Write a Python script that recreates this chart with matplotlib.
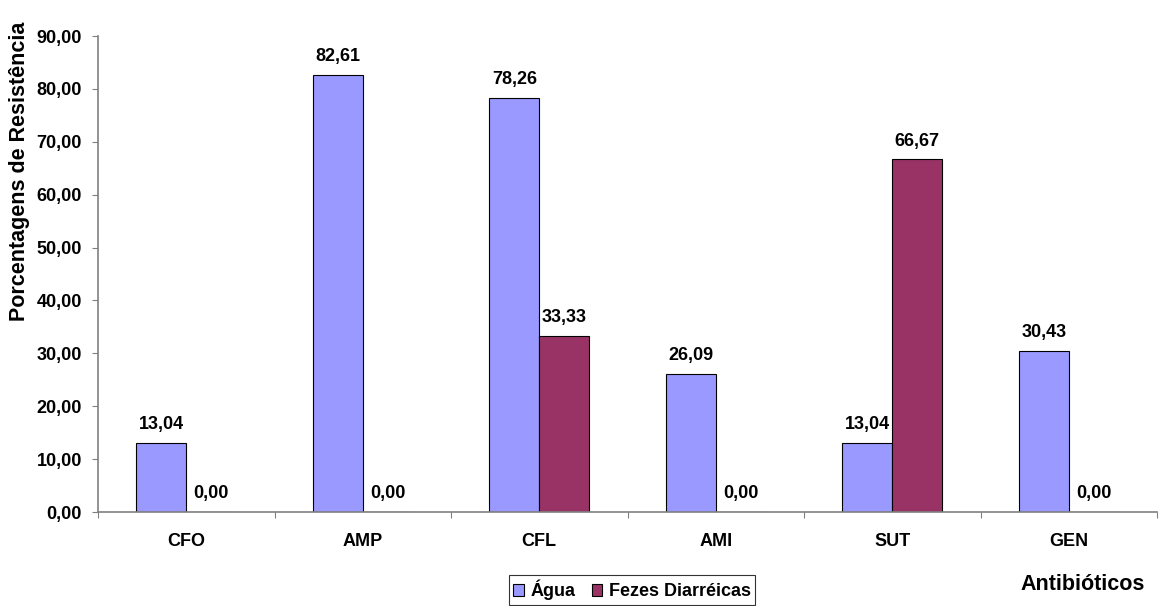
import matplotlib.pyplot as plt
import numpy as np

plt.rcParams['font.family'] = ['Liberation Sans', 'DejaVu Sans']
plt.rcParams['font.weight'] = 'bold'

categories = ['CFO', 'AMP', 'CFL', 'AMI', 'SUT', 'GEN']
agua = [13.04, 82.61, 78.26, 26.09, 13.04, 30.43]
fezes = [0.00, 0.00, 33.33, 0.00, 66.67, 0.00]
series_names = ['Água', 'Fezes Diarréicas']
colors = ['#9999FF', '#993366']


def fmt(v):
    return ('%.2f' % v).replace('.', ',')


fig = plt.figure(figsize=(11.59, 6.06), dpi=100)
ax = fig.add_axes([98 / 1159, 94 / 606, 1059 / 1159, 476 / 606])

x = np.arange(len(categories))
w = 0.283
bars = []
for k, vals in enumerate([agua, fezes]):
    pos = x + (k - 0.5) * w
    b = ax.bar(pos, vals, w, color=colors[k], edgecolor='black', linewidth=0.8,
               label=series_names[k], zorder=2)
    bars.append(b)
    for p, v in zip(pos, vals):
        ax.annotate(fmt(v), (p, v), xytext=(0, 7), textcoords='offset points',
                    ha='center', va='bottom', fontsize=13, fontweight='bold')

ax.set_xlim(-0.5, len(categories) - 0.5)
ax.set_ylim(0, 90)
ax.set_yticks(np.arange(0, 91, 10))
ax.set_yticklabels([fmt(v) for v in np.arange(0, 91, 10)], fontsize=13,
                   fontweight='bold')

# category names sit between the boundary ticks
ax.set_xticks(np.arange(-0.5, len(categories)))
ax.set_xticklabels([])
ax.set_xticks(x, minor=True)
ax.set_xticklabels(categories, minor=True, fontsize=13, fontweight='bold')
ax.tick_params(axis='x', which='major', length=4.5, color='#808080', direction='out')
ax.tick_params(axis='x', which='minor', length=0, pad=15)
ax.tick_params(axis='y', length=4.5, color='#808080', direction='out', pad=7)

for s in ['top', 'right']:
    ax.spines[s].set_visible(False)
for s in ['left', 'bottom']:
    ax.spines[s].set_color('#808080')
    ax.spines[s].set_linewidth(1.2)

fig.text(20 / 1159, 1 - 171 / 606, 'Porcentagens de Resistência', rotation=90,
         ha='center', va='center', fontsize=15.5, fontweight='bold')
fig.text(1145 / 1159, 1 - 584 / 606, 'Antibióticos', ha='right', va='center',
         fontsize=15.5, fontweight='bold')

leg = fig.legend(handles=bars, labels=series_names, loc='center',
                 bbox_to_anchor=(632 / 1159, 1 - 590 / 606), ncol=2,
                 fontsize=13, frameon=True, fancybox=False,
                 handlelength=0.6, handleheight=0.6, handletextpad=0.35,
                 columnspacing=0.9, borderpad=0.25, borderaxespad=0)
leg.get_frame().set_edgecolor('black')
leg.get_frame().set_linewidth(0.8)
for t in leg.get_texts():
    t.set_fontweight('bold')

fig.savefig('out.png', dpi=100)
